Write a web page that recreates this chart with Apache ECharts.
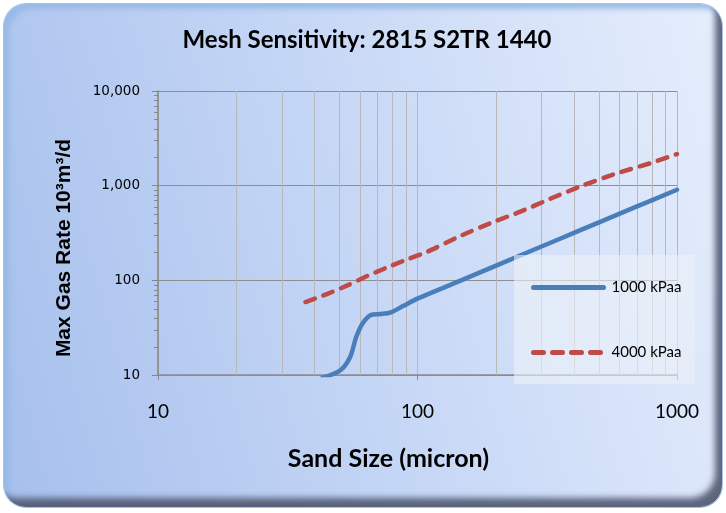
<!DOCTYPE html>
<html>
<head>
<meta charset="utf-8">
<script src="https://cdn.jsdelivr.net/npm/echarts@6/dist/echarts.min.js"></script>
<style>
  html, body { margin: 0; padding: 0; background: #ffffff; }
  #frame {
    position: absolute; left: 4px; top: 4px; width: 718px; height: 503px;
    border-radius: 22px;
    background: linear-gradient(75deg, #a6bfec 0%, #c3d5f5 45%, #e6eefc 100%);
    box-shadow: inset -10px -12px 6px -3px rgba(80,88,112,0.9),
                inset 7px 7px 5px -2px rgba(150,185,230,0.9),
                0 0 0 1px #a9c1e6;
  }
  #chart { position: absolute; left: 0; top: 0; width: 726px; height: 513px; }
</style>
</head>
<body>
<div id="frame"></div>
<div id="chart"></div>
<script type="text/javascript">
    // 数据
    var sand1000 = [43, 50.6, 55, 58, 61.4, 66, 72, 79, 88, 100, 145, 203, 345, 506, 679, 1000];
    var rate1000 = [9.3, 11.3, 15.5, 25, 35, 43, 44, 46, 53.5, 64, 98, 145, 267, 415, 582, 905];
    var sand4000 = [37, 45, 54, 64, 75, 90, 109, 146, 197, 249, 330, 436, 586, 787, 1000];
    var rate4000 = [59, 72, 89, 111, 134, 164, 200, 294, 416, 531, 740, 1010, 1352, 1722, 2158];
    var xMinor = [20, 30, 40, 50, 60, 70, 80, 90, 200, 300, 400, 500, 600, 700, 800, 900];
    var yMinor = [20, 30, 40, 50, 60, 70, 80, 90, 200, 300, 400, 500, 600, 700, 800, 900,
                  2000, 3000, 4000, 5000, 6000, 7000, 8000, 9000];

    function pairs(xs, ys) {
        return xs.map(function (x, i) { return [x, ys[i]]; });
    }

    var myChart = echarts.init(document.getElementById('chart'), null, {renderer: 'canvas'});

    var option = {
        backgroundColor: 'transparent',
        animation: false,
        title: {
            text: 'Mesh Sensitivity: 2815 S2TR 1440',
            left: 367,
            textAlign: 'center',
            top: 28,
            padding: 0,
            textStyle: {fontFamily: 'Lato', fontWeight: 'bold', fontSize: 24, color: '#000'}
        },
        legend: {
            data: ['1000 kPaa', '4000 kPaa'],
            orient: 'vertical',
            left: 514,
            top: 255,
            padding: [25, 13, 24, 17],
            itemGap: 50,
            itemWidth: 70,
            itemHeight: 14,
            itemStyle: {opacity: 0},
            lineStyle: {width: 5, cap: 'round'},
            backgroundColor: 'rgba(236,241,249,0.6)',
            textStyle: {fontFamily: 'Lato', fontSize: 15, color: '#000', padding: [0, 0, 0, 3]}
        },
        grid: {left: 158, right: 49, top: 91, bottom: 138},
        xAxis: {
            type: 'log',
            logBase: 10,
            min: 10,
            max: 1000,
            name: 'Sand Size (micron)',
            nameLocation: 'middle',
            nameGap: 71,
            nameTextStyle: {fontFamily: 'Lato', fontWeight: 'bold', fontSize: 25, color: '#000', padding: [0, 58, 0, 0]},
            axisLine: {lineStyle: {color: '#8c8c8c', width: 1.5}},
            axisTick: {show: true, length: 5, lineStyle: {color: '#8c8c8c'}},
            axisLabel: {
                margin: 27, fontFamily: 'Lato', fontSize: 19, color: '#000',
                formatter: function (v) { return String(Math.round(v)); }
            },
            splitLine: {show: true, lineStyle: {color: '#b8b8b8', width: 1}}
        },
        yAxis: {
            type: 'log',
            logBase: 10,
            min: 10,
            max: 10000,
            name: 'Max Gas Rate 10³m³/d',
            nameLocation: 'middle',
            nameGap: 83,
            nameTextStyle: {fontFamily: 'Liberation Sans', fontWeight: 'bold', fontSize: 21, color: '#000', padding: [0, 30, 0, 0]},
            axisLine: {show: true, lineStyle: {color: '#868686', width: 1.5}},
            axisTick: {show: true, length: 6, lineStyle: {color: '#868686'}},
            axisLabel: {
                margin: 18,
                fontFamily: 'DejaVu Sans',
                fontSize: 13.5,
                color: '#000',
                formatter: function (v) { return Math.round(v).toLocaleString('en-US'); }
            },
            splitLine: {show: true, lineStyle: {color: '#8e8e8e', width: 1}}
        },
        series: [
            {
                // 次网格线
                type: 'custom',
                silent: true,
                z: 1,
                data: xMinor.map(function (v) { return [v, 10]; }),
                encode: {x: 0, y: 1},
                renderItem: function (params, api) {
                    var v = api.value(0);
                    var p1 = api.coord([v, 10]);
                    var p2 = api.coord([v, 10000]);
                    return {
                        type: 'line',
                        shape: {x1: Math.round(p1[0]) + 0.5, y1: p1[1], x2: Math.round(p2[0]) + 0.5, y2: p2[1]},
                        style: {stroke: '#b8b8b8', lineWidth: 1}
                    };
                }
            },
            {
                // y轴次刻度
                type: 'custom',
                silent: true,
                z: 3,
                data: yMinor.map(function (v) { return [10, v]; }),
                encode: {x: 0, y: 1},
                renderItem: function (params, api) {
                    var p = api.coord([10, api.value(1)]);
                    var y = Math.round(p[1]) + 0.5;
                    return {
                        type: 'line',
                        shape: {x1: p[0] - 4, y1: y, x2: p[0], y2: y},
                        style: {stroke: '#868686', lineWidth: 1}
                    };
                }
            },
            {
                name: '1000 kPaa',
                type: 'line',
                showSymbol: false,
                symbol: 'none',
                smooth: 0.3,
                clip: true,
                lineStyle: {color: '#4a7ebb', width: 4.5, cap: 'round', join: 'round'},
                itemStyle: {color: '#4a7ebb'},
                data: pairs(sand1000, rate1000)
            },
            {
                name: '4000 kPaa',
                type: 'line',
                showSymbol: false,
                symbol: 'none',
                smooth: 0.2,
                clip: true,
                lineStyle: {color: '#be4b48', width: 4.5, type: [10, 9], cap: 'round'},
                itemStyle: {color: '#be4b48'},
                data: pairs(sand4000, rate4000)
            }
        ]
    };

    myChart.setOption(option);
</script>
</body>
</html>
